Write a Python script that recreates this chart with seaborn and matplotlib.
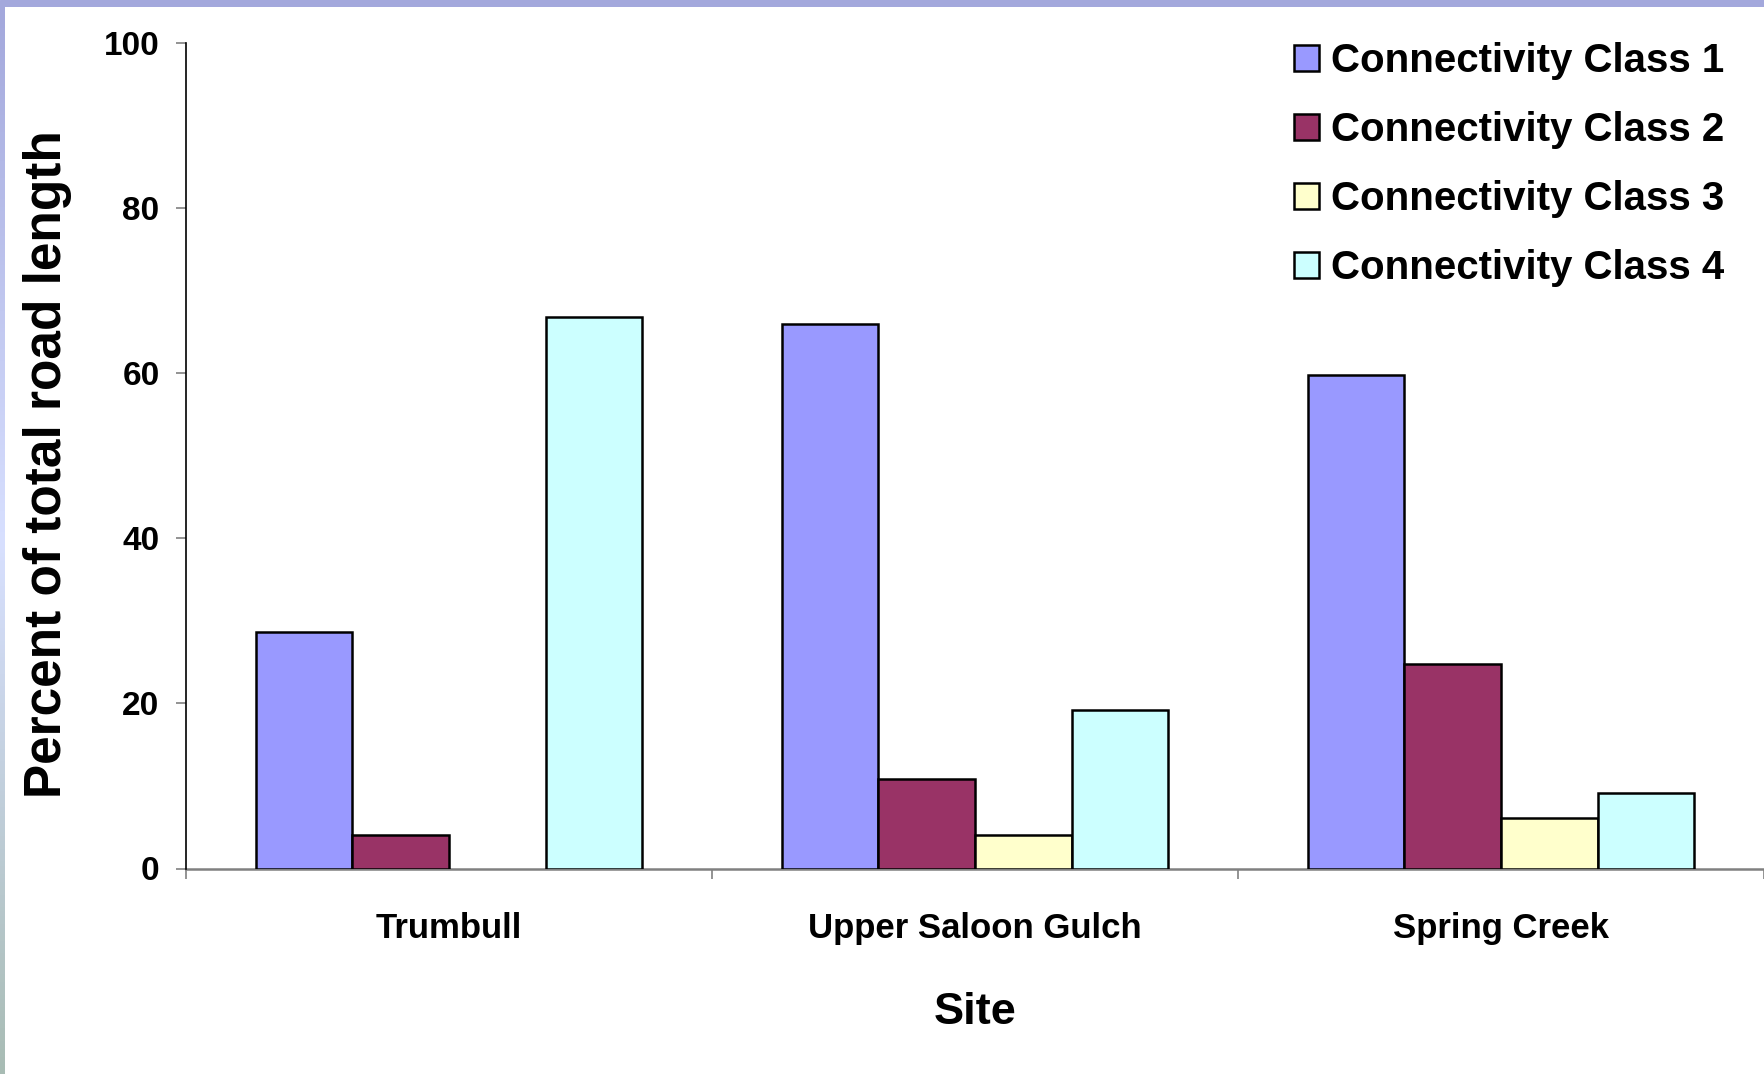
import numpy as np
import pandas as pd
import seaborn as sns
import matplotlib.pyplot as plt
from matplotlib import font_manager
from matplotlib.colors import LinearSegmentedColormap

# data
sites = ["Trumbull", "Upper Saloon Gulch", "Spring Creek"]
classes = ["Connectivity Class 1", "Connectivity Class 2",
           "Connectivity Class 3", "Connectivity Class 4"]
class1 = [28.7, 65.9, 59.8]
class2 = [4.0, 10.9, 24.8]
class3 = [np.nan, 4.0, 6.1]   # no class 3 bar at Trumbull
class4 = [66.8, 19.2, 9.1]
colors = ["#9999FF", "#993366", "#FFFFCC", "#CCFFFF"]
yticks = [0, 20, 40, 60, 80, 100]

rows = []
for cls, vals in zip(classes, [class1, class2, class3, class4]):
    for site, v in zip(sites, vals):
        rows.append({"Site": site, "Class": cls, "Percent": v})
df = pd.DataFrame(rows).dropna()

sns.set_style("white")
names = {f.name for f in font_manager.fontManager.ttflist}
if "Liberation Sans Narrow" in names:
    narrow, k = "Liberation Sans Narrow", 1.2
else:
    narrow, k = "Liberation Sans", 1.0
plt.rcParams["font.family"] = ["Liberation Sans", "DejaVu Sans"]
plt.rcParams["text.color"] = "black"
plt.rcParams["axes.labelcolor"] = "black"
plt.rcParams["xtick.color"] = "black"
plt.rcParams["ytick.color"] = "black"

fig = plt.figure(figsize=(17.64, 10.74), dpi=100)
fig.patch.set_facecolor("white")
W, H = 1764, 1074
ax = fig.add_axes([186 / W, 1 - 868.5 / H, 1 - 186 / W, (868.5 - 43) / H])

sns.barplot(data=df, x="Site", y="Percent", hue="Class", order=sites,
            hue_order=classes, palette=colors, saturation=1, width=0.735,
            edgecolor="black", linewidth=1.8, errorbar=None, ax=ax)

ax.set_xlim(-0.5, 2.5)
ax.set_ylim(0, 100)
ax.set_yticks(yticks)
ax.set_yticklabels([str(t) for t in yticks], fontfamily=narrow,
                   fontweight="bold", fontsize=24 * k)
ax.set_xticks(range(len(sites)))
ax.set_xticklabels(sites, fontfamily=narrow, fontweight="bold", fontsize=25 * k)
ax.set_xticks([-0.5, 0.5, 1.5, 2.5], minor=True)
ax.tick_params(axis="x", which="major", length=0, pad=31, labelcolor="black")
ax.tick_params(axis="x", which="minor", length=7, width=1.2, color="#808080",
               direction="out", bottom=True)
ax.tick_params(axis="y", which="major", length=7, width=1.2, color="#808080",
               direction="out", left=True, pad=12, labelcolor="black")

for s in ["top", "right"]:
    ax.spines[s].set_visible(False)
ax.spines["left"].set_color("black")
ax.spines["left"].set_linewidth(1.2)
ax.spines["bottom"].set_color("#808080")
ax.spines["bottom"].set_linewidth(1.8)
ax.spines["bottom"].set_zorder(0)

ax.set_ylabel("Percent of total road length", fontsize=37, fontweight="bold",
              color="black")
ax.yaxis.set_label_coords(-0.072, 0.49)
ax.set_xlabel("Site", fontfamily=narrow, fontweight="bold", fontsize=32.5 * k,
              color="black")
ax.xaxis.set_label_coords(0.5, -0.15)

handles, labels = ax.get_legend_handles_labels()
leg = ax.legend(handles, labels, loc="upper right", frameon=False,
                bbox_to_anchor=(1740 / W, 1 - 26 / H), bbox_transform=fig.transFigure,
                prop={"family": narrow, "weight": "bold", "size": 29 * k},
                handlelength=0.6, handleheight=0.6, handletextpad=0.3,
                labelspacing=0.77, borderaxespad=0)
for t in leg.get_texts():
    t.set_color("black")

# slide-style border strips
top = fig.add_axes([0, 1 - 7 / H, 1, 7 / H])
top.set_axis_off()
top.add_patch(plt.Rectangle((0, 0), 1, 1, color="#a3a8dc", transform=top.transAxes))
left = fig.add_axes([0, 0, 5 / W, 1 - 7 / H])
cmap = LinearSegmentedColormap.from_list("strip", ["#a8bcb4", "#d8e0ff", "#a3a8dc"])
left.imshow(np.linspace(0, 1, 256).reshape(-1, 1), aspect="auto", cmap=cmap,
            origin="lower", extent=[0, 1, 0, 1])
left.set_axis_off()

fig.savefig("out.png", dpi=100)
